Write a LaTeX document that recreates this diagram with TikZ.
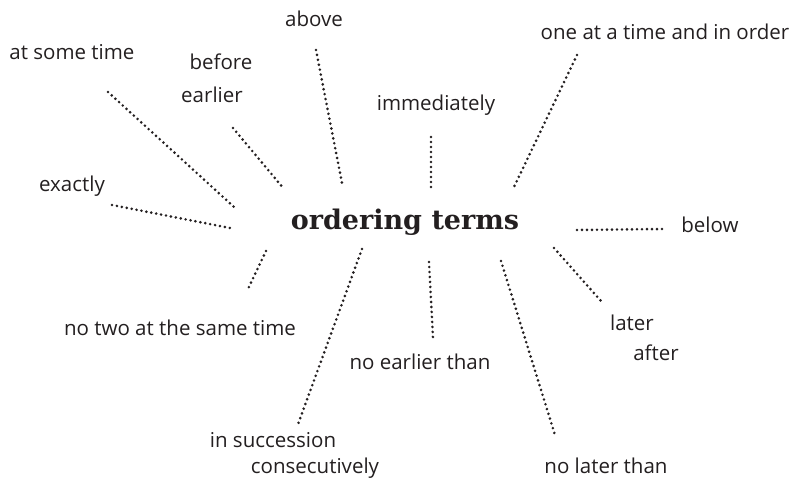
\documentclass[tikz,border=0pt]{standalone}
\usepackage{fontspec}
\setmainfont{Open Sans}
\newfontfamily\titlefont{DejaVu Serif}
\definecolor{ink}{HTML}{231F20}
\begin{document}
\begin{tikzpicture}[x=1pt,y=-1pt,
  term/.style={inner sep=0pt,text=ink,font=\fontsize{20.5}{24}\selectfont},
  title/.style={inner sep=0pt,text=ink,font=\titlefont\bfseries\fontsize{27}{30}\selectfont},
  link/.style={draw=ink,line width=2.9pt,line cap=round,dash pattern=on 0pt off 5pt}]
\useasboundingbox (0,0) rectangle (796,484);
\node[title] (center) at (405,222) {ordering terms};
\node[term] (above) at (314,19) {above};
\node[term] (sometime) at (72,52) {at some time};
\node[term] (before) at (221,62) {before};
\node[term] (earlier) at (212,95) {earlier};
\node[term] (exactly) at (72,186) {exactly};
\node[term] (immediately) at (436,105) {immediately};
\node[term] (oneatatime) at (665,32) {one at a time and in order};
\node[term] (below) at (710,225) {below};
\node[term] (notwo) at (180,328) {no two at the same time};
\node[term] (insuccession) at (273,440) {in succession};
\node[term] (consecutively) at (315,468) {consecutively};
\node[term] (noearlier) at (420,362) {no earlier than};
\node[term] (later) at (632,323) {later};
\node[term] (after) at (656,353) {after};
\node[term] (nolater) at (606,466) {no later than};
% connector ends
\coordinate (a1) at (316,50);  \coordinate (a2) at (342,183);
\coordinate (s1) at (108,92);  \coordinate (s2) at (234,207);
\coordinate (b1) at (233,128); \coordinate (b2) at (284,189);
\coordinate (e1) at (112,205); \coordinate (e2) at (230,228);
\coordinate (i1) at (431,137); \coordinate (i2) at (431,188);
\coordinate (o1) at (577,55);  \coordinate (o2) at (514,187);
\coordinate (w1) at (577,230); \coordinate (w2) at (662,229);
\coordinate (n1) at (266,251); \coordinate (n2) at (247,291);
\coordinate (c1) at (362,249); \coordinate (c2) at (297,427);
\coordinate (r1) at (429,262); \coordinate (r2) at (433,338);
\coordinate (l1) at (501,261); \coordinate (l2) at (555,435);
\coordinate (t1) at (554,248); \coordinate (t2) at (601,301);
\draw[link] (a1) -- (a2);
\draw[link] (s1) -- (s2);
\draw[link] (b1) -- (b2);
\draw[link] (e1) -- (e2);
\draw[link] (i1) -- (i2);
\draw[link] (o1) -- (o2);
\draw[link] (w1) -- (w2);
\draw[link] (n1) -- (n2);
\draw[link] (c1) -- (c2);
\draw[link] (r1) -- (r2);
\draw[link] (l1) -- (l2);
\draw[link] (t1) -- (t2);
\end{tikzpicture}
\end{document}
